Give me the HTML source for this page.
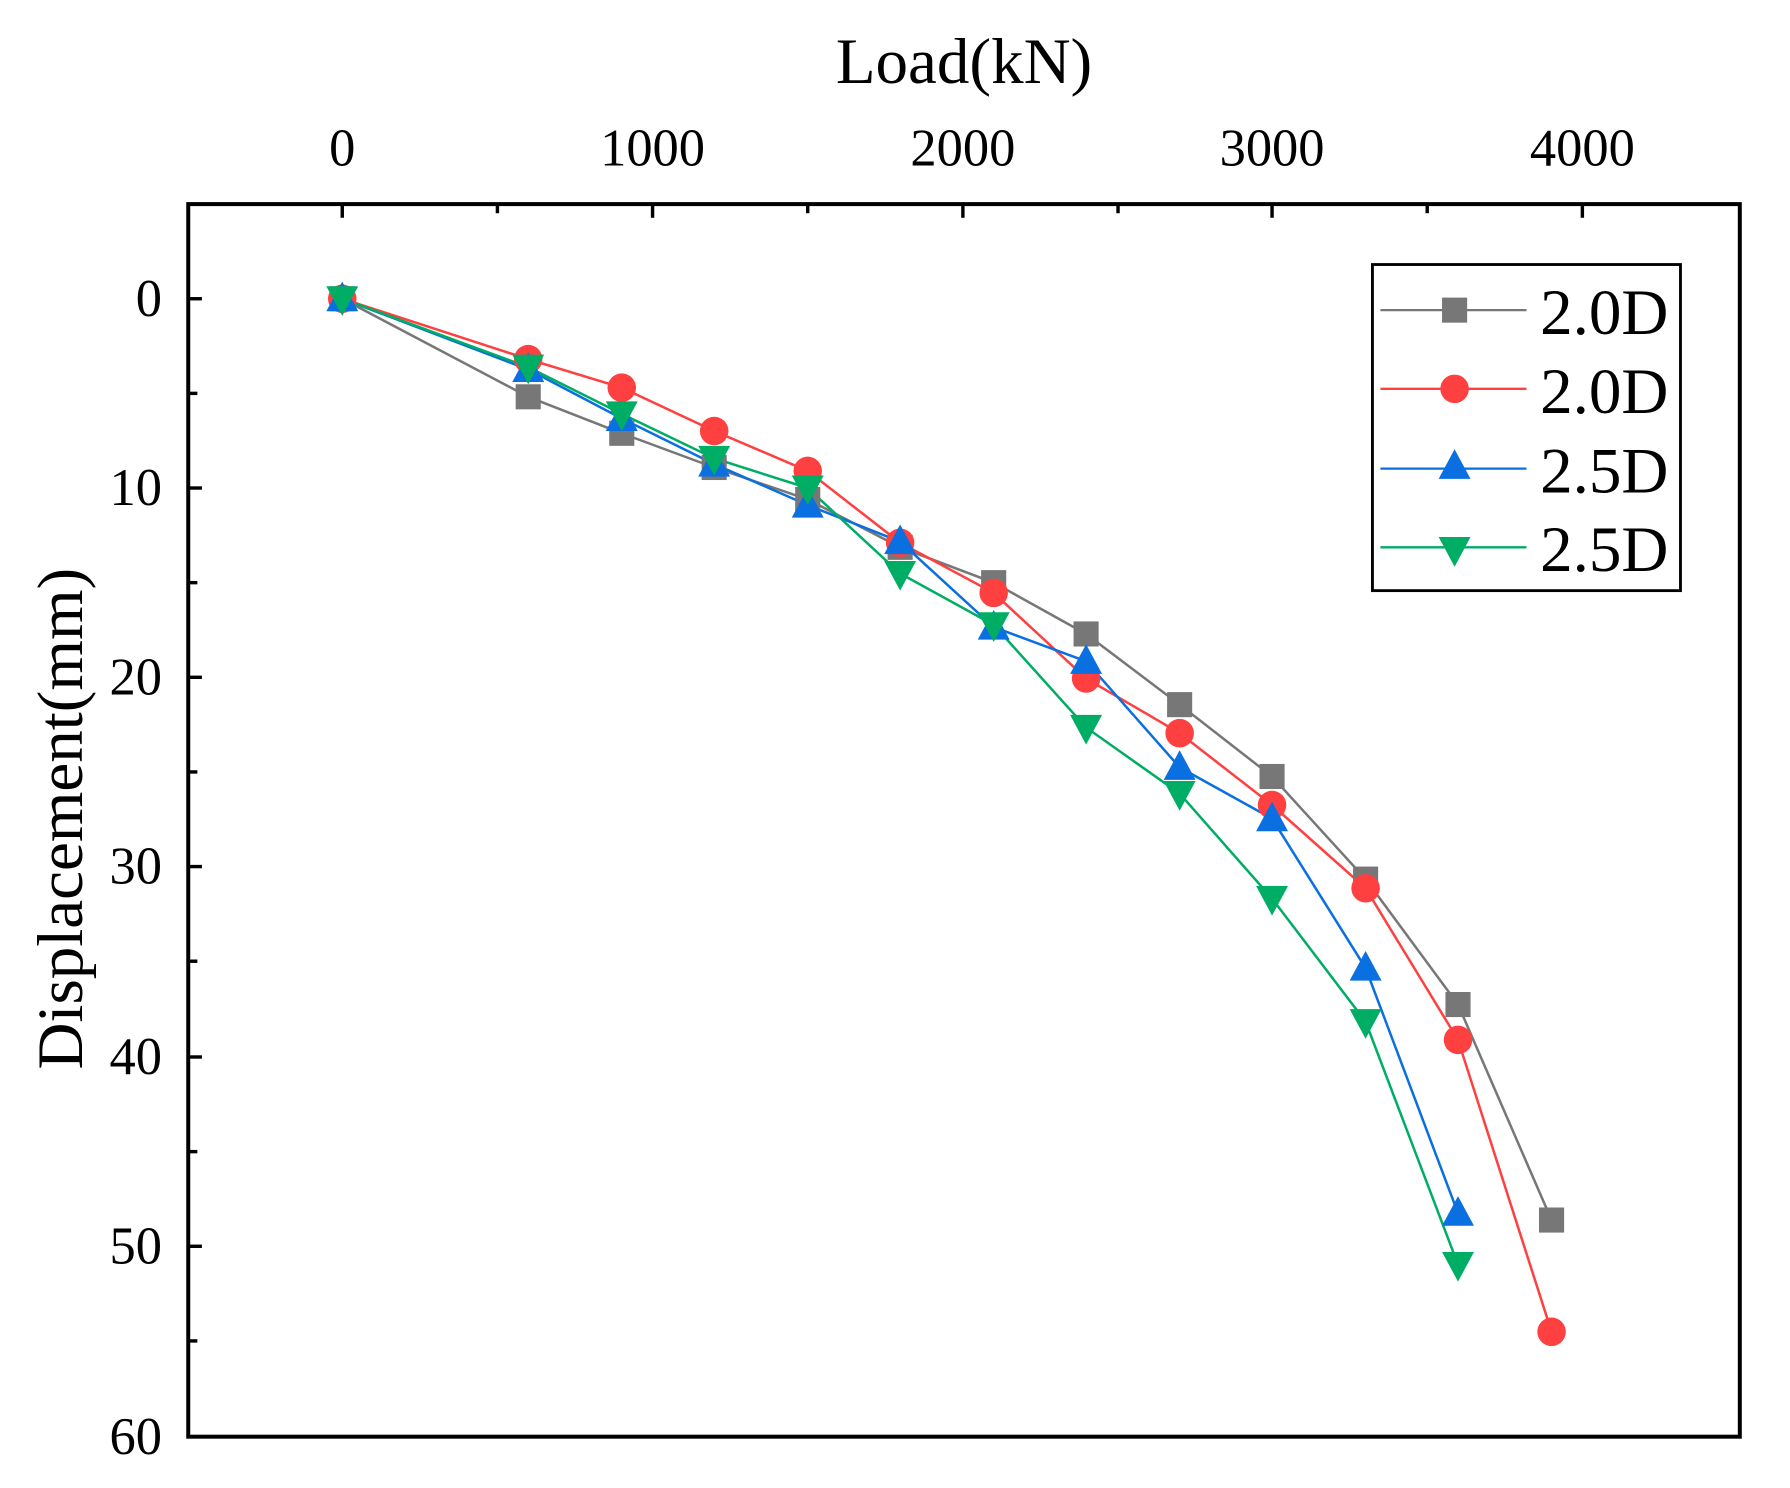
<!DOCTYPE html>
<html><head><meta charset="utf-8"><style>
html,body{margin:0;padding:0;background:#fff;}
svg{display:block;}
text{font-family:"Liberation Serif",serif;fill:#000;}
</style></head><body>
<svg width="1790" height="1488" viewBox="0 0 1569 1305" preserveAspectRatio="none" xmlns="http://www.w3.org/2000/svg">
<defs>
<g id="sq"><rect x="-11" y="-11" width="22" height="22" fill="#777"/></g>
<g id="ci"><circle r="12.5" fill="#ff4040"/></g>
<g id="tu"><polygon points="0,-15 14,11 -14,11" fill="#0a6fe0"/></g>
<g id="td"><polygon points="0,15 14,-11 -14,-11" fill="#00ad65"/></g>
</defs>
<rect x="165" y="179" width="1360" height="1081" fill="none" stroke="#000" stroke-width="3.5"/>
<g stroke="#000" stroke-width="3">
<line x1="300" y1="179" x2="300" y2="191"/><line x1="436" y1="179" x2="436" y2="187"/>
<line x1="572" y1="179" x2="572" y2="191"/><line x1="708" y1="179" x2="708" y2="187"/>
<line x1="844" y1="179" x2="844" y2="191"/><line x1="980" y1="179" x2="980" y2="187"/>
<line x1="1115" y1="179" x2="1115" y2="191"/><line x1="1251" y1="179" x2="1251" y2="187"/>
<line x1="1387" y1="179" x2="1387" y2="191"/>
<line x1="165" y1="262" x2="177" y2="262"/><line x1="165" y1="345" x2="173" y2="345"/>
<line x1="165" y1="428" x2="177" y2="428"/><line x1="165" y1="511" x2="173" y2="511"/>
<line x1="165" y1="594" x2="177" y2="594"/><line x1="165" y1="677" x2="173" y2="677"/>
<line x1="165" y1="760" x2="177" y2="760"/><line x1="165" y1="843" x2="173" y2="843"/>
<line x1="165" y1="927" x2="177" y2="927"/><line x1="165" y1="1010" x2="173" y2="1010"/>
<line x1="165" y1="1093" x2="177" y2="1093"/><line x1="165" y1="1176" x2="173" y2="1176"/>
</g>
<g font-size="46" text-anchor="middle">
<text x="300" y="145">0</text><text x="572" y="145">1000</text><text x="844" y="145">2000</text>
<text x="1115" y="145">3000</text><text x="1387" y="145">4000</text>
</g>
<g font-size="46" text-anchor="end">
<text x="142" y="277">0</text><text x="142" y="443">10</text><text x="142" y="609">20</text>
<text x="142" y="775">30</text><text x="142" y="942">40</text><text x="142" y="1108">50</text>
<text x="142" y="1275">60</text>
</g>
<text x="845" y="73" font-size="57" text-anchor="middle">Load(kN)</text>
<text transform="translate(72,718) rotate(-90)" font-size="57" text-anchor="middle">Displacement(mm)</text>
<g fill="none" stroke-width="2.2">
<polyline stroke="#777" points="300,262 463,348 545,380 626,410 708,438 789,480 871,511 952,556 1034,618 1115,681 1197,771 1278,881 1360,1070"/>
<polyline stroke="#ff4040" points="300,262 463,315 545,340 626,378 708,413 789,476 871,520 952,595 1034,643 1115,706 1197,779 1278,912 1360,1168"/>
<polyline stroke="#0a6fe0" points="300,262 463,324 545,367 626,407 708,443 789,475 871,550 952,580 1034,673 1115,718 1197,849 1278,1064"/>
<polyline stroke="#00ad65" points="300,262 463,322 545,363 626,402 708,428 789,503 871,548 952,638 1034,696 1115,788 1197,896 1278,1109"/>
</g>
<g>
<use href="#sq" x="300" y="262"/><use href="#sq" x="463" y="348"/><use href="#sq" x="545" y="380"/><use href="#sq" x="626" y="410"/><use href="#sq" x="708" y="438"/><use href="#sq" x="789" y="480"/><use href="#sq" x="871" y="511"/><use href="#sq" x="952" y="556"/><use href="#sq" x="1034" y="618"/><use href="#sq" x="1115" y="681"/><use href="#sq" x="1197" y="771"/><use href="#sq" x="1278" y="881"/><use href="#sq" x="1360" y="1070"/>
<use href="#ci" x="300" y="262"/><use href="#ci" x="463" y="315"/><use href="#ci" x="545" y="340"/><use href="#ci" x="626" y="378"/><use href="#ci" x="708" y="413"/><use href="#ci" x="789" y="476"/><use href="#ci" x="871" y="520"/><use href="#ci" x="952" y="595"/><use href="#ci" x="1034" y="643"/><use href="#ci" x="1115" y="706"/><use href="#ci" x="1197" y="779"/><use href="#ci" x="1278" y="912"/><use href="#ci" x="1360" y="1168"/>
<use href="#tu" x="300" y="262"/><use href="#tu" x="463" y="324"/><use href="#tu" x="545" y="367"/><use href="#tu" x="626" y="407"/><use href="#tu" x="708" y="443"/><use href="#tu" x="789" y="475"/><use href="#tu" x="871" y="550"/><use href="#tu" x="952" y="580"/><use href="#tu" x="1034" y="673"/><use href="#tu" x="1115" y="718"/><use href="#tu" x="1197" y="849"/><use href="#tu" x="1278" y="1064"/>
<use href="#td" x="300" y="262"/><use href="#td" x="463" y="322"/><use href="#td" x="545" y="363"/><use href="#td" x="626" y="402"/><use href="#td" x="708" y="428"/><use href="#td" x="789" y="503"/><use href="#td" x="871" y="548"/><use href="#td" x="952" y="638"/><use href="#td" x="1034" y="696"/><use href="#td" x="1115" y="788"/><use href="#td" x="1197" y="896"/><use href="#td" x="1278" y="1109"/>
</g>
<rect x="1203" y="232" width="270" height="286" fill="#fff" stroke="#000" stroke-width="2.5"/>
<g stroke-width="2">
<line x1="1210" y1="272" x2="1338" y2="272" stroke="#777"/>
<line x1="1210" y1="341" x2="1338" y2="341" stroke="#ff4040"/>
<line x1="1210" y1="411" x2="1338" y2="411" stroke="#0a6fe0"/>
<line x1="1210" y1="480" x2="1338" y2="480" stroke="#00ad65"/>
</g>
<use href="#sq" x="1275" y="272"/><use href="#ci" x="1275" y="341"/><use href="#tu" x="1275" y="409"/><use href="#td" x="1275" y="482"/>
<g font-size="57">
<text x="1350" y="293">2.0D</text><text x="1350" y="362">2.0D</text>
<text x="1350" y="432">2.5D</text><text x="1350" y="501">2.5D</text>
</g>
</svg>
</body></html>
